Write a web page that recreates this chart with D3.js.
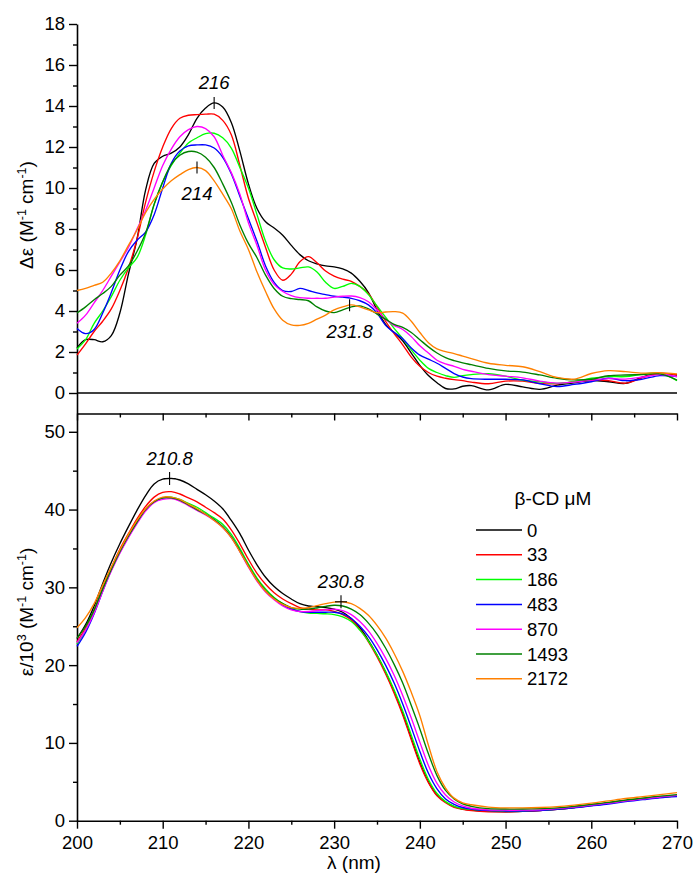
<!DOCTYPE html>
<html>
<head>
<meta charset="utf-8">
<script src="https://cdn.jsdelivr.net/npm/d3@7"></script>
<style>
  body { margin: 0; background: #fff; }
  svg { display: block; }
  text { font-family: "Liberation Sans", Arial, Helvetica, sans-serif; fill: #000; }
</style>
</head>
<body>
<svg id="chart" width="694" height="877"></svg>
<script>
// Wavelength grid (nm) shared by both panels
const wavelengths = [
  200,201,202,203,204,205,206,207,208,209,
  210,211,212,213,214,215,216,217,218,219,
  220,221,222,223,224,225,226,227,228,229,
  230,231,232,233,234,235,236,237,238,239,
  240,241,242,243,244,245,246,
  248,250,252,254,256,258,260,262,264,266,268,270
];

// beta-CD concentrations (uM) and line colours
const concentrations = ["0", "33", "186", "483", "870", "1493", "2172"];
const seriesColors = ["#000000", "#ff0000", "#00ff00", "#0000ff", "#ff00ff", "#008000", "#ff8000"];

// Circular dichroism, delta-epsilon (M^-1 cm^-1)
const cd_0 = [
  2.2,2.6,2.6,2.5,2.8,3.9,5.8,7.5,9.9,11.2,
  11.55,11.7,12.0,12.6,13.4,13.9,14.15,13.95,13.2,11.8,
  10.2,9.0,8.35,8.05,7.7,7.2,6.75,6.45,6.3,6.2,
  6.15,6.05,5.85,5.45,4.9,4.05,3.35,2.95,2.55,1.95,
  1.35,0.85,0.5,0.22,0.2,0.33,0.36,
  0.15,0.42,0.3,0.18,0.38,0.5,0.6,0.55,0.47,0.78,0.95,0.88
];
const cd_33 = [
  1.85,2.4,3.0,3.5,4.1,5.0,6.1,7.5,9.3,10.8,
  12.0,12.9,13.4,13.55,13.58,13.6,13.6,13.3,12.6,11.1,
  9.5,8.3,7.1,6.0,5.5,5.8,6.4,6.65,6.35,5.95,
  5.7,5.55,5.45,5.2,4.85,4.2,3.5,2.9,2.35,1.75,
  1.3,1.0,0.82,0.72,0.65,0.6,0.53,
  0.45,0.58,0.58,0.47,0.45,0.55,0.63,0.6,0.48,0.75,0.95,0.88
];
const cd_186 = [
  2.15,2.6,3.4,4.0,4.7,5.5,6.1,6.6,7.7,9.2,
  10.3,11.1,11.7,12.2,12.45,12.65,12.67,12.45,11.95,11.0,
  10.0,8.7,7.4,6.5,6.1,6.05,6.1,6.15,5.9,5.4,
  5.1,5.2,5.35,5.2,4.8,4.25,3.7,3.15,2.65,2.1,
  1.6,1.2,1.0,0.85,0.76,0.85,0.9,
  0.94,0.82,0.62,0.55,0.47,0.55,0.72,0.8,0.8,0.92,0.98,0.6
];
const cd_483 = [
  3.15,2.9,3.1,3.9,4.9,6.0,6.9,7.45,7.85,8.7,
  10.0,11.2,11.8,12.05,12.1,12.1,11.95,11.5,10.7,9.6,
  8.5,7.4,6.2,5.4,5.0,4.95,5.1,5.0,4.88,4.8,
  4.72,4.68,4.62,4.5,4.3,3.9,3.3,2.95,2.65,2.2,
  1.85,1.65,1.45,1.2,0.95,0.78,0.7,
  0.67,0.67,0.64,0.45,0.31,0.42,0.55,0.72,0.6,0.68,0.85,0.8
];
const cd_870 = [
  3.4,3.8,4.4,5.0,5.7,6.4,7.1,8.0,8.9,10.0,
  11.1,11.9,12.5,12.85,13.0,12.9,12.5,11.6,10.75,9.7,
  8.3,7.2,6.0,5.3,4.95,4.75,4.65,4.62,4.62,4.62,
  4.68,4.72,4.73,4.65,4.45,4.05,3.6,3.3,3.1,2.75,
  2.3,1.95,1.6,1.42,1.3,1.15,1.06,
  0.9,0.82,0.74,0.58,0.48,0.53,0.63,0.7,0.68,0.78,0.9,0.8
];
const cd_1493 = [
  3.9,4.2,4.55,4.85,5.2,5.75,6.2,6.9,7.8,9.2,
  10.3,11.15,11.6,11.78,11.75,11.5,11.0,10.2,9.3,8.2,
  7.3,6.6,5.75,5.1,4.72,4.6,4.56,4.5,4.2,4.0,
  3.92,4.05,4.2,4.25,4.1,3.85,3.6,3.35,3.2,2.95,
  2.6,2.25,1.95,1.72,1.58,1.47,1.38,
  1.2,1.08,1.02,0.88,0.72,0.64,0.67,0.84,0.88,0.9,0.93,0.63
];
const cd_2172 = [
  5.0,5.1,5.25,5.4,5.85,6.45,7.2,7.95,8.8,9.45,
  9.95,10.35,10.65,10.9,11.0,10.85,10.35,9.7,9.0,7.9,
  7.0,5.9,4.95,4.1,3.55,3.32,3.3,3.4,3.6,3.8,
  4.05,4.2,4.3,4.2,4.05,3.92,3.95,3.97,3.9,3.5,
  2.95,2.45,2.15,2.02,1.92,1.8,1.68,
  1.45,1.35,1.28,1.04,0.76,0.68,0.95,1.09,1.04,0.97,0.99,0.93
];

// Absorption, epsilon / 10^3 (M^-1 cm^-1)
const uv_0 = [
  23.4,25.2,27.6,30.5,33.2,35.6,37.8,39.9,41.8,43.3,
  43.9,44.0,43.8,43.3,42.6,41.9,41.1,40.1,38.6,36.9,
  34.8,32.9,31.3,30.1,29.2,28.5,27.9,27.6,27.5,27.4,
  27.2,26.8,26.0,24.8,23.2,21.3,19.1,16.6,13.8,10.6,
  7.5,5.0,3.3,2.4,1.8,1.5,1.35,
  1.2,1.15,1.2,1.3,1.45,1.7,2.0,2.3,2.6,2.85,3.05,3.2
];
const uv_33 = [
  23.0,24.8,27.1,29.9,32.5,34.9,36.9,38.8,40.4,41.6,
  42.2,42.3,42.0,41.5,41.0,40.3,39.6,38.8,37.4,35.6,
  33.6,31.8,30.4,29.3,28.5,27.9,27.4,27.2,27.1,27.1,
  26.9,26.5,25.8,24.6,23.0,21.1,18.9,16.4,13.6,10.4,
  7.3,4.9,3.2,2.3,1.7,1.45,1.3,
  1.15,1.15,1.2,1.3,1.45,1.7,1.95,2.25,2.55,2.8,3.0,3.15
];
const uv_186 = [
  22.7,24.5,26.9,29.7,32.3,34.6,36.6,38.4,40.0,41.0,
  41.5,41.6,41.3,40.8,40.3,39.6,38.9,38.1,36.8,35.0,
  33.0,31.2,29.8,28.7,27.9,27.3,26.9,26.7,26.65,26.6,
  26.5,26.2,25.6,24.5,23.1,21.3,19.2,16.8,14.1,11.0,
  7.9,5.3,3.5,2.45,1.85,1.55,1.45,
  1.3,1.25,1.25,1.35,1.5,1.7,1.95,2.25,2.55,2.8,3.0,3.2
];
const uv_483 = [
  22.4,24.2,26.6,29.5,32.2,34.5,36.5,38.3,39.9,41.0,
  41.5,41.5,41.2,40.6,40.0,39.4,38.7,37.8,36.5,34.7,
  32.7,30.9,29.5,28.5,27.7,27.2,26.9,26.8,26.8,26.8,
  26.8,26.6,26.0,25.0,23.7,22.0,20.0,17.7,15.0,12.0,
  8.9,6.1,4.1,2.8,2.1,1.7,1.5,
  1.3,1.25,1.25,1.3,1.45,1.65,1.9,2.15,2.45,2.7,2.95,3.1
];
const uv_870 = [
  22.9,24.5,26.7,29.5,32.1,34.4,36.4,38.2,39.8,40.9,
  41.3,41.4,41.1,40.5,39.9,39.3,38.6,37.7,36.4,34.6,
  32.6,30.8,29.4,28.4,27.6,27.1,26.9,26.9,27.0,27.1,
  27.2,27.0,26.5,25.6,24.4,22.8,20.9,18.7,16.1,13.2,
  10.1,7.1,4.8,3.3,2.4,1.9,1.6,
  1.4,1.35,1.35,1.4,1.55,1.75,2.0,2.25,2.55,2.8,3.05,3.25
];
const uv_1493 = [
  23.5,25.0,27.1,29.8,32.3,34.6,36.6,38.4,40.0,41.0,
  41.5,41.5,41.2,40.6,40.0,39.4,38.7,37.8,36.5,34.7,
  32.8,31.0,29.6,28.6,27.9,27.4,27.2,27.2,27.35,27.55,
  27.7,27.6,27.2,26.5,25.4,24.0,22.2,20.1,17.7,14.8,
  11.8,8.6,5.8,3.9,2.8,2.15,1.85,
  1.55,1.5,1.5,1.55,1.65,1.85,2.1,2.35,2.65,2.9,3.15,3.35
];
const uv_2172 = [
  24.8,26.1,27.9,30.3,32.6,34.8,36.8,38.6,40.1,41.1,
  41.6,41.6,41.3,40.7,40.1,39.4,38.6,37.7,36.4,34.6,
  32.7,30.9,29.5,28.5,27.8,27.4,27.3,27.4,27.65,27.9,
  28.1,28.15,27.9,27.3,26.4,25.1,23.5,21.5,19.2,16.5,
  13.5,9.7,6.3,4.2,2.9,2.3,2.05,
  1.75,1.65,1.65,1.7,1.8,2.0,2.25,2.55,2.85,3.1,3.35,3.6
];

const cdSeries = [cd_0, cd_33, cd_186, cd_483, cd_870, cd_1493, cd_2172];
const uvSeries = [uv_0, uv_33, uv_186, uv_483, uv_870, uv_1493, uv_2172];

// Axis ticks
const xTicks = [200, 210, 220, 230, 240, 250, 260, 270];
const xMinorTicks = [205, 215, 225, 235, 245, 255, 265];
const cdTicks = [0, 2, 4, 6, 8, 10, 12, 14, 16, 18];
const cdMinorTicks = [1, 3, 5, 7, 9, 11, 13, 15, 17];
const uvTicks = [0, 10, 20, 30, 40, 50];
const uvMinorTicks = [5, 15, 25, 35, 45];

// Marked band positions (nm) and the curve each one sits on
const cdBands = [
  { nm: 216, series: 0, side: "above" },
  { nm: 214, series: 6, side: "below" },
  { nm: 231.8, series: 6, side: "below" }
];
const uvBands = [
  { nm: 210.8, series: 0 },
  { nm: 230.8, series: 6 }
];

// ---------------------------------------------------------------
const svg = d3.select("#chart");
svg.append("rect").attr("width", 694).attr("height", 877).attr("fill", "#fff");

const left = 77, right = 677;
const x = d3.scaleLinear().domain([200, 270]).range([left, right]);
const yCD = d3.scaleLinear().domain([-1, 18]).range([413.5, 24]);
const yUV = d3.scaleLinear().domain([0, 52.35]).range([820.7, 413.5]);

const tickFont = 18.5;
const titleFont = 19;

function valueAt(series, nm) {
  const i = d3.bisectLeft(wavelengths, nm);
  if (wavelengths[i] === nm) return series[i];
  const x0 = wavelengths[i - 1], x1 = wavelengths[i];
  const t = (nm - x0) / (x1 - x0);
  return series[i - 1] + t * (series[i] - series[i - 1]);
}

function styleAxis(g) {
  g.selectAll("path.domain").attr("stroke", "#000").attr("stroke-width", 1.6);
  g.selectAll(".tick line").attr("stroke", "#000").attr("stroke-width", 1.4);
  g.selectAll(".tick text").attr("font-size", tickFont)
    .attr("font-family", '"Liberation Sans", Arial, sans-serif').attr("fill", "#000");
}

// ---- Left axes (continuous spine through both panels)
const gCDy = svg.append("g").attr("transform", `translate(${left},0)`)
  .call(d3.axisLeft(yCD).tickValues(cdTicks).tickSize(8).tickSizeOuter(0).tickPadding(4));
styleAxis(gCDy);
const gCDyMinor = svg.append("g").attr("transform", `translate(${left},0)`)
  .call(d3.axisLeft(yCD).tickValues(cdMinorTicks).tickSize(4).tickSizeOuter(0).tickFormat(""));
styleAxis(gCDyMinor);
gCDyMinor.select("path.domain").remove();

const gUVy = svg.append("g").attr("transform", `translate(${left},0)`)
  .call(d3.axisLeft(yUV).tickValues(uvTicks).tickSize(8).tickSizeOuter(0).tickPadding(4));
styleAxis(gUVy);
const gUVyMinor = svg.append("g").attr("transform", `translate(${left},0)`)
  .call(d3.axisLeft(yUV).tickValues(uvMinorTicks).tickSize(4).tickSizeOuter(0).tickFormat(""));
styleAxis(gUVyMinor);
gUVyMinor.select("path.domain").remove();

// ---- Panel divider with downward ticks
const gMid = svg.append("g").attr("transform", `translate(0,${yCD(-1)})`)
  .call(d3.axisBottom(x).tickValues(xTicks).tickSize(7).tickSizeOuter(0).tickFormat(""));
styleAxis(gMid);
const gMidMinor = svg.append("g").attr("transform", `translate(0,${yCD(-1)})`)
  .call(d3.axisBottom(x).tickValues(xMinorTicks).tickSize(4).tickSizeOuter(0).tickFormat(""));
styleAxis(gMidMinor);
gMidMinor.select("path.domain").remove();

// ---- Bottom wavelength axis
const gX = svg.append("g").attr("transform", `translate(0,${yUV(0)})`)
  .call(d3.axisBottom(x).tickValues(xTicks).tickSize(8).tickSizeOuter(0).tickPadding(7));
styleAxis(gX);
const gXMinor = svg.append("g").attr("transform", `translate(0,${yUV(0)})`)
  .call(d3.axisBottom(x).tickValues(xMinorTicks).tickSize(4).tickSizeOuter(0).tickFormat(""));
styleAxis(gXMinor);
gXMinor.select("path.domain").remove();

// ---- Zero line in the CD panel
svg.append("line")
  .attr("x1", x(200)).attr("x2", x(270))
  .attr("y1", yCD(0)).attr("y2", yCD(0))
  .attr("stroke", "#000").attr("stroke-width", 1.6);

// ---- Spectra
const cdLine = d3.line().x((d, i) => x(wavelengths[i])).y(d => yCD(d)).curve(d3.curveCatmullRom.alpha(0.5));
const uvLine = d3.line().x((d, i) => x(wavelengths[i])).y(d => yUV(d)).curve(d3.curveCatmullRom.alpha(0.5));

svg.append("g").selectAll("path").data(cdSeries).join("path")
  .attr("d", cdLine).attr("fill", "none")
  .attr("stroke", (d, i) => seriesColors[i]).attr("stroke-width", 1.35);

svg.append("g").selectAll("path").data(uvSeries).join("path")
  .attr("d", uvLine).attr("fill", "none")
  .attr("stroke", (d, i) => seriesColors[i]).attr("stroke-width", 1.35);

// ---- Band markers: CD panel (vertical ticks)
cdBands.forEach(b => {
  const px = x(b.nm), py = yCD(valueAt(cdSeries[b.series], b.nm));
  svg.append("line").attr("x1", px).attr("x2", px).attr("y1", py - 6).attr("y2", py + 6)
    .attr("stroke", "#000").attr("stroke-width", 1.1);
  svg.append("text").attr("x", px).attr("y", b.side === "above" ? py - 14 : py + 32.5)
    .attr("text-anchor", "middle").attr("font-size", tickFont).attr("font-style", "italic")
    .text(b.nm);
});

// ---- Band markers: absorption panel (crosses)
uvBands.forEach(b => {
  const px = x(b.nm), py = yUV(valueAt(uvSeries[b.series], b.nm));
  svg.append("line").attr("x1", px).attr("x2", px).attr("y1", py - 6.5).attr("y2", py + 6.5)
    .attr("stroke", "#000").attr("stroke-width", 1.1);
  svg.append("line").attr("x1", px - 6).attr("x2", px + 6).attr("y1", py).attr("y2", py)
    .attr("stroke", "#000").attr("stroke-width", 1.1);
  svg.append("text").attr("x", px).attr("y", py - 14)
    .attr("text-anchor", "middle").attr("font-size", tickFont).attr("font-style", "italic")
    .text(b.nm);
});

// ---- Axis titles
function unitTitle(cx, cy, parts) {
  const t = svg.append("text")
    .attr("transform", `translate(${cx},${cy}) rotate(-90)`)
    .attr("text-anchor", "middle").attr("font-size", titleFont);
  parts.forEach(p => {
    const s = t.append("tspan").text(p.text);
    if (p.sup) s.attr("font-size", 12.5).attr("dy", -7.5);
    if (p.down) s.attr("dy", 7.5);
  });
  return t;
}

unitTitle(33, 215, [
  { text: "\u0394\u03b5 (M" }, { text: "-1", sup: true }, { text: " cm", down: true },
  { text: "-1", sup: true }, { text: ")", down: true }
]);
unitTitle(33, 612, [
  { text: "\u03b5/10" }, { text: "3", sup: true }, { text: " (M", down: true },
  { text: "-1", sup: true }, { text: " cm", down: true },
  { text: "-1", sup: true }, { text: ")", down: true }
]);

svg.append("text").attr("x", 354).attr("y", 869)
  .attr("text-anchor", "middle").attr("font-size", titleFont)
  .text("\u03bb (nm)");

// ---- Legend
const legendX = 476, legendY = 530, legendStep = 24.8;
svg.append("text").attr("x", 553).attr("y", 505)
  .attr("text-anchor", "middle").attr("font-size", titleFont)
  .text("\u03b2-CD \u03bcM");

const legend = svg.append("g").selectAll("g").data(concentrations).join("g")
  .attr("transform", (d, i) => `translate(${legendX},${legendY + i * legendStep})`);
legend.append("line").attr("x1", 0).attr("x2", 46).attr("y1", 0).attr("y2", 0)
  .attr("stroke", (d, i) => seriesColors[i]).attr("stroke-width", 1.5);
legend.append("text").attr("x", 51).attr("y", 0).attr("dy", "0.36em")
  .attr("font-size", tickFont).text(d => d);
</script>
</body>
</html>
